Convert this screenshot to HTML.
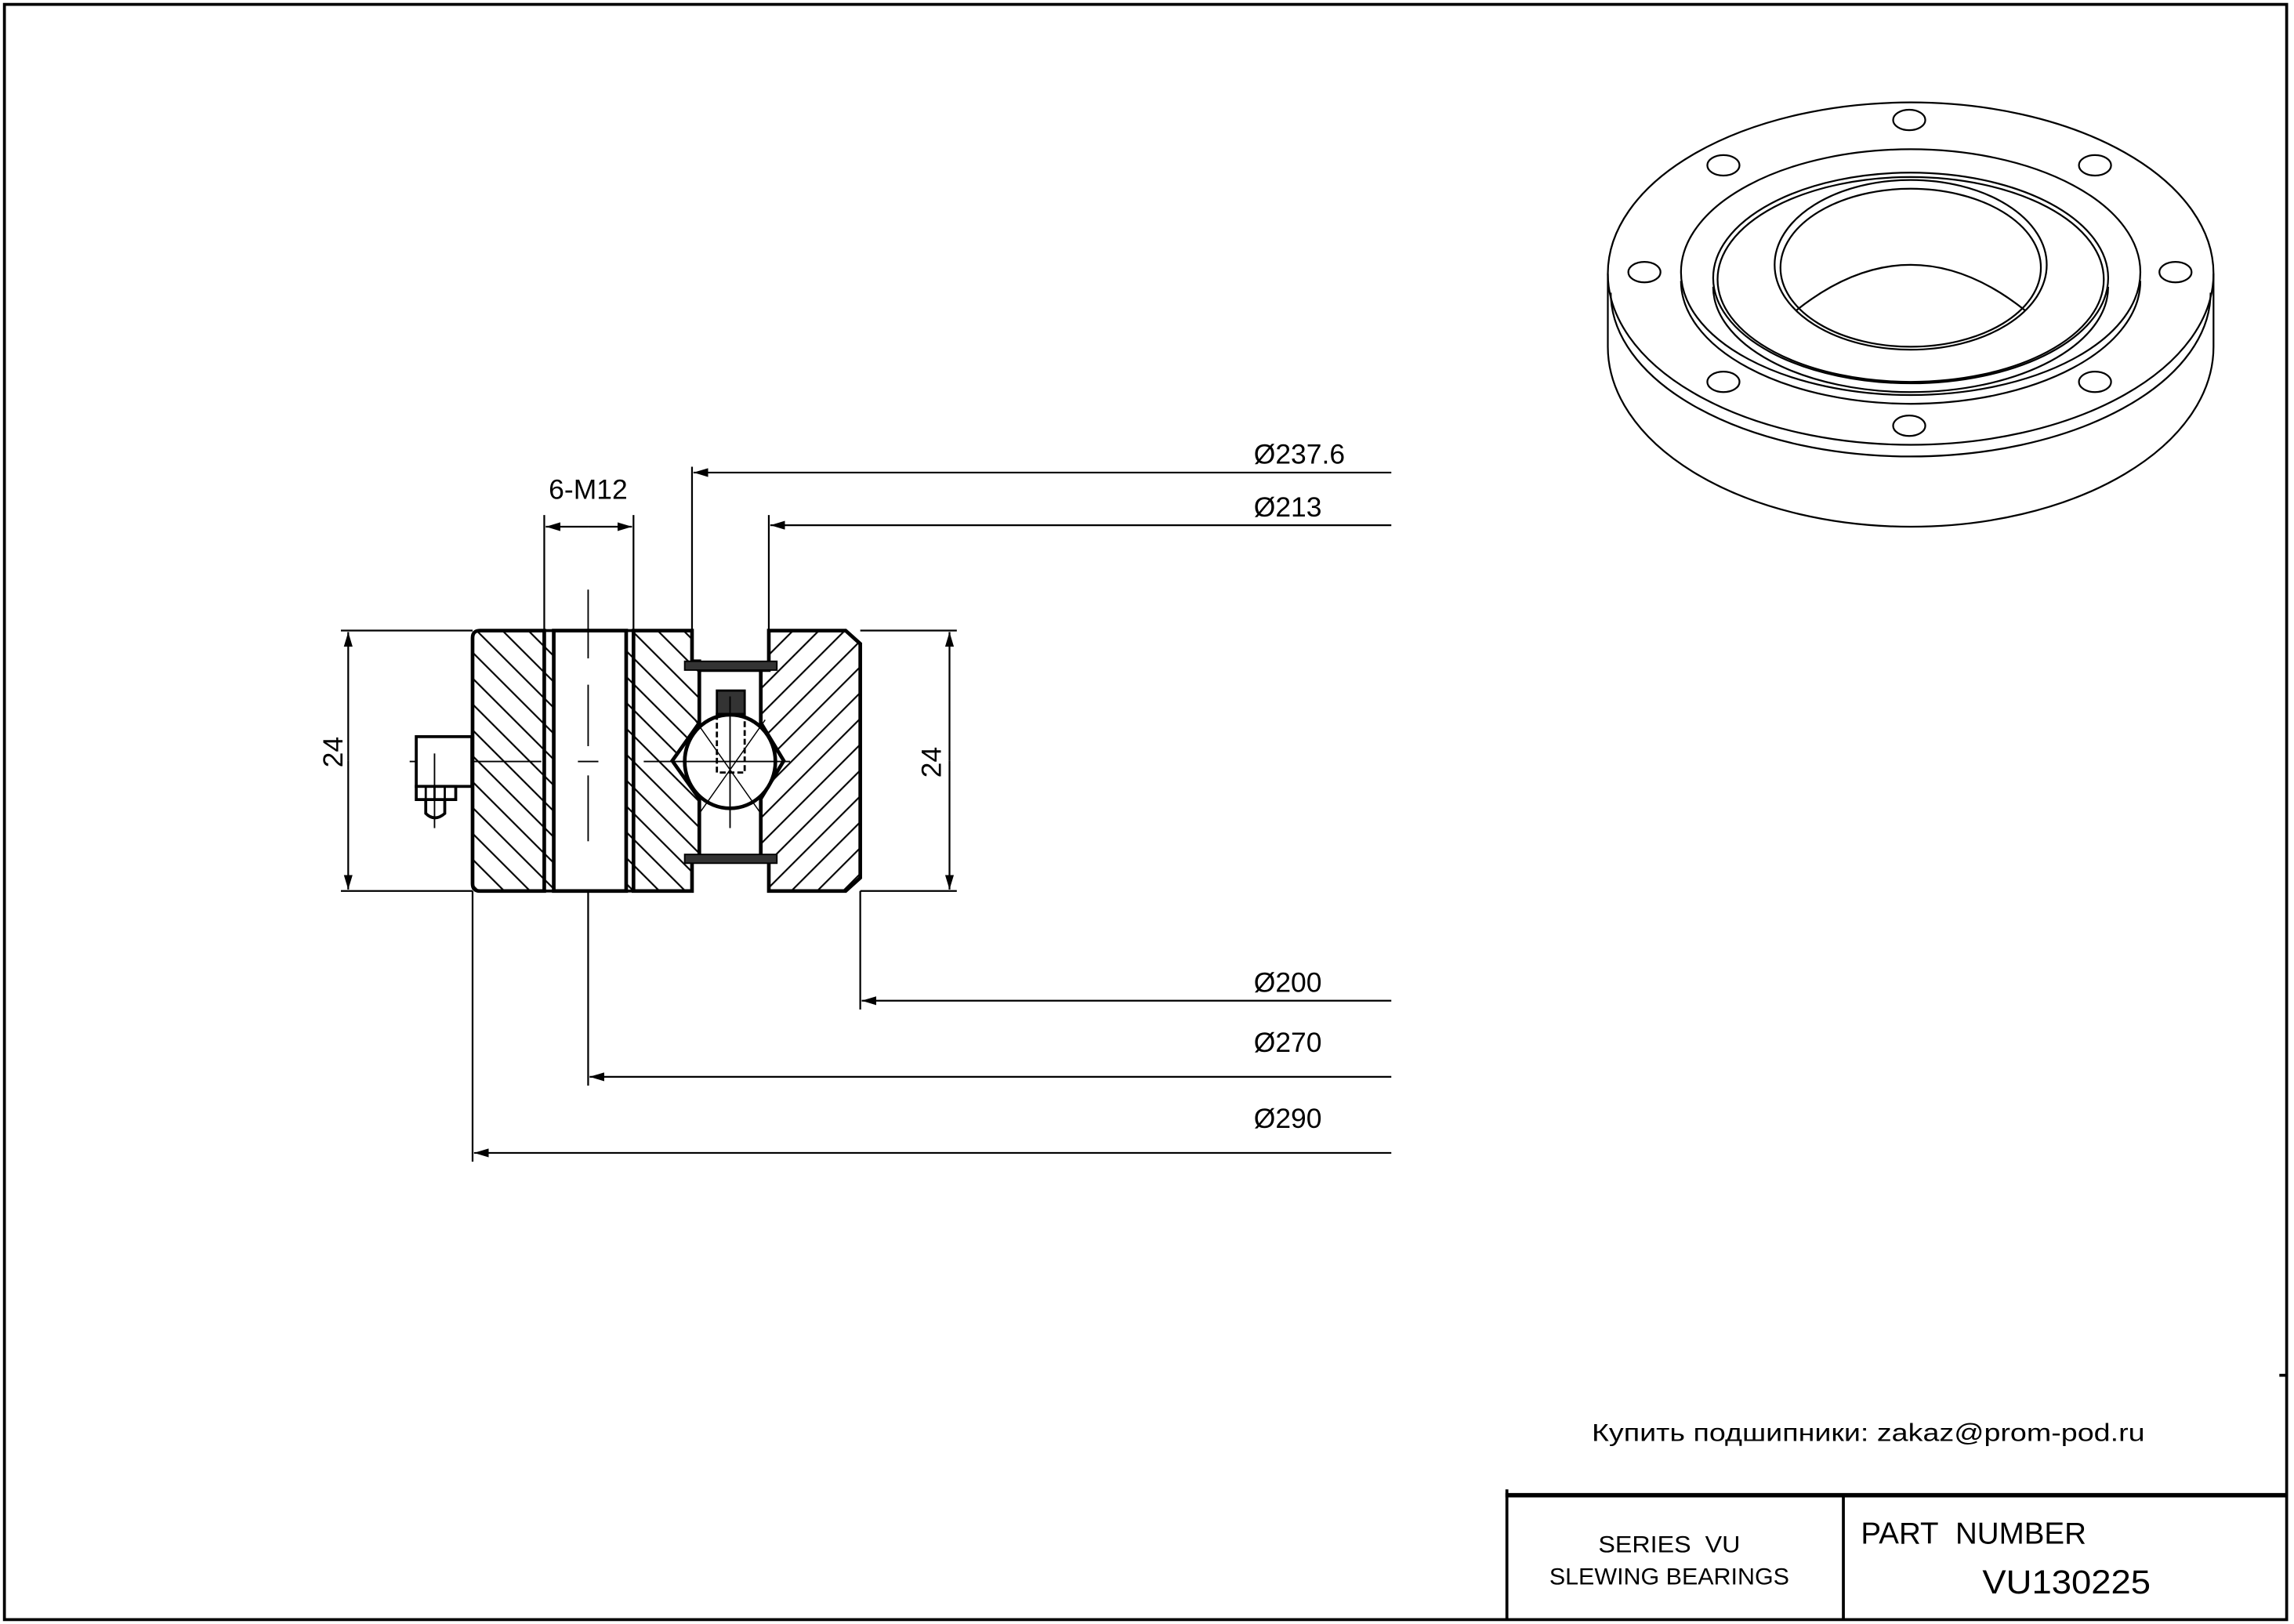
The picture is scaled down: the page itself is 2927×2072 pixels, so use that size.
<!DOCTYPE html>
<html><head><meta charset="utf-8"><style>
html,body{margin:0;padding:0;background:#fff;}
svg{display:block;}
text{font-family:"Liberation Sans",sans-serif;fill:#000;white-space:pre;}
</style></head><body>
<svg width="2927" height="2072" viewBox="0 0 1568 1110" xmlns="http://www.w3.org/2000/svg">
<defs>
<pattern id="hL" patternUnits="userSpaceOnUse" width="12.5" height="12.5" patternTransform="rotate(-45)">
<line x1="0" y1="0" x2="0" y2="12.5" stroke="#000" stroke-width="2.3"/></pattern>
<pattern id="hR" patternUnits="userSpaceOnUse" width="12.5" height="12.5" patternTransform="rotate(45)">
<line x1="0" y1="0" x2="0" y2="12.5" stroke="#000" stroke-width="2.3"/></pattern>
<marker id="ar" viewBox="0 0 10 6" refX="10" refY="3" markerWidth="10" markerHeight="6" orient="auto" markerUnits="userSpaceOnUse">
<path d="M0,0 L10,3 L0,6 z" fill="#000"/></marker>
</defs>
<rect x="3" y="3" width="1560" height="1104" fill="none" stroke="#000" stroke-width="2"/>

<g stroke="#000" fill="none">
<path d="M328,431 H372 V609 H328 Q323,609 323,604 V436 Q323,431 328,431 z" fill="url(#hL)" stroke-width="2.5"/>
<rect x="372" y="431" width="6.5" height="178" fill="url(#hL)" stroke-width="2"/>
<rect x="378.5" y="431" width="49.5" height="178" fill="#fff" stroke-width="2.5"/>
<rect x="428" y="431" width="5" height="178" fill="url(#hL)" stroke-width="2"/>
<path d="M433,431 H473 V452 H478 V494 L459.5,520 L478,546 V585 H473 V609 H433 z" fill="url(#hL)" stroke-width="2.5"/>
<path d="M525.5,431 H578 L588,440 V600 L578,609 H525.5 V589 H520 V546 L535.7,520 L520,494 V458 H525.5 z" fill="url(#hR)" stroke-width="2.5"/>
<rect x="478" y="458" width="42" height="127" fill="#fff" stroke-width="2.5"/>
<rect x="468" y="452" width="63" height="6" fill="#333" stroke-width="1"/>
<rect x="468" y="584" width="63" height="6" fill="#333" stroke-width="1"/>
<ellipse cx="499" cy="520.5" rx="31" ry="32" fill="#fff" stroke-width="2.5"/>
<rect x="490" y="472" width="19" height="16" fill="#333" stroke-width="1.5"/>
<rect x="490" y="488" width="19" height="40" stroke-width="1.5" stroke-dasharray="4,2"/>
<line x1="478" y1="556" x2="523" y2="492" stroke-width="0.8"/>
<line x1="475" y1="492" x2="520" y2="556" stroke-width="0.8"/>
<line x1="499" y1="476" x2="499" y2="566" stroke-width="1"/>
<line x1="280" y1="520.5" x2="370" y2="520.5" stroke-width="1"/>
<line x1="395" y1="520.5" x2="409" y2="520.5" stroke-width="1"/>
<line x1="440" y1="520.5" x2="540" y2="520.5" stroke-width="1"/>
<line x1="402" y1="403" x2="402" y2="450" stroke-width="1"/>
<line x1="402" y1="468" x2="402" y2="510" stroke-width="1"/>
<line x1="402" y1="530" x2="402" y2="575" stroke-width="1"/>
<rect x="284.5" y="503.5" width="38" height="34" fill="#fff" stroke-width="2"/>
<rect x="284.5" y="537.5" width="27" height="9" fill="#fff" stroke-width="2"/>
<line x1="291" y1="537.5" x2="291" y2="546.5" stroke-width="1.5"/><line x1="297" y1="537.5" x2="297" y2="546.5" stroke-width="1.5"/><line x1="304" y1="537.5" x2="304" y2="546.5" stroke-width="1.5"/>
<path d="M291,546.5 V556 Q297,562 304,556 V546.5" stroke-width="2"/>
<line x1="297" y1="515" x2="297" y2="566" stroke-width="1"/>

<g stroke-width="1.2">
<line x1="233" y1="431" x2="323" y2="431"/><line x1="233" y1="609" x2="323" y2="609"/>
<line x1="238" y1="520" x2="238" y2="432" marker-end="url(#ar)"/>
<line x1="238" y1="520" x2="238" y2="608" marker-end="url(#ar)"/>
<line x1="588" y1="431" x2="654" y2="431"/><line x1="588" y1="609" x2="654" y2="609"/>
<line x1="649" y1="520" x2="649" y2="432" marker-end="url(#ar)"/>
<line x1="649" y1="520" x2="649" y2="608" marker-end="url(#ar)"/>
<line x1="372" y1="352" x2="372" y2="431"/><line x1="433" y1="352" x2="433" y2="431"/>
<line x1="402" y1="360" x2="373" y2="360" marker-end="url(#ar)"/>
<line x1="402" y1="360" x2="432" y2="360" marker-end="url(#ar)"/>
<line x1="473" y1="319" x2="473" y2="452"/>
<line x1="951" y1="323" x2="474" y2="323" marker-end="url(#ar)"/>
<line x1="525.5" y1="352" x2="525.5" y2="431"/>
<line x1="951" y1="359" x2="526.5" y2="359" marker-end="url(#ar)"/>
<line x1="588" y1="609" x2="588" y2="690"/>
<line x1="951" y1="684" x2="589" y2="684" marker-end="url(#ar)"/>
<line x1="402" y1="609" x2="402" y2="742"/>
<line x1="951" y1="736" x2="403" y2="736" marker-end="url(#ar)"/>
<line x1="323" y1="609" x2="323" y2="794"/>
<line x1="951" y1="788" x2="324" y2="788" marker-end="url(#ar)"/>
</g>
</g>
<g font-size="19">
<text x="234" y="514" text-anchor="middle" transform="rotate(-90 234 514)">24</text>
<text x="643" y="521" text-anchor="middle" transform="rotate(-90 643 521)">24</text>
<text x="402" y="341" text-anchor="middle">6-M12</text>
<text x="857" y="317">Ø237.6</text>
<text x="857" y="353">Ø213</text>
<text x="857" y="678">Ø200</text>
<text x="857" y="719">Ø270</text>
<text x="857" y="771">Ø290</text>
</g>

<g stroke="#000" fill="none" stroke-width="1.2">
<path d="M1099,187 V237 A207,123 0 0 0 1513,237 V187"/>
<ellipse cx="1306" cy="187" rx="207" ry="117"/>
<path d="M1101,200 A205,112 0 0 0 1511,200"/>
<ellipse cx="1306" cy="186" rx="157" ry="84"/>
<path d="M1149,192 A157,84 0 0 0 1463,192"/>
<ellipse cx="1306" cy="190" rx="135" ry="72"/>
<ellipse cx="1306" cy="191" rx="132" ry="70"/>
<path d="M1171,196 A135,72 0 0 0 1441,196"/>
<ellipse cx="1306" cy="181" rx="93" ry="58"/>
<ellipse cx="1306" cy="183" rx="89" ry="54"/>
<path d="M1228,212 Q1306,150 1384,212"/>
<ellipse cx="1305" cy="82" rx="11" ry="7"/>
<ellipse cx="1178" cy="113" rx="11" ry="7"/>
<ellipse cx="1432" cy="113" rx="11" ry="7"/>
<ellipse cx="1124" cy="186" rx="11" ry="7"/>
<ellipse cx="1487" cy="186" rx="11" ry="7"/>
<ellipse cx="1178" cy="261" rx="11" ry="7"/>
<ellipse cx="1432" cy="261" rx="11" ry="7"/>
<ellipse cx="1305" cy="291" rx="11" ry="7"/>
</g>

<g stroke="#000">
<line x1="1029" y1="1022" x2="1563" y2="1022" stroke-width="3"/>
<line x1="1030" y1="1018" x2="1030" y2="1107" stroke-width="2"/>
<line x1="1260" y1="1022" x2="1260" y2="1107" stroke-width="2"/>
<line x1="1558" y1="940" x2="1563" y2="940" stroke-width="2"/>
</g>
<text x="1088" y="985" font-size="17" font-family="'Liberation Sans','DejaVu Sans',sans-serif" textLength="378" lengthAdjust="spacingAndGlyphs">Купить подшипники: zakaz@prom-pod.ru</text>
<text x="1141" y="1061" font-size="16" text-anchor="middle" textLength="97" lengthAdjust="spacingAndGlyphs">SERIES&#160; VU</text>
<text x="1141" y="1083" font-size="16" text-anchor="middle" textLength="164" lengthAdjust="spacingAndGlyphs">SLEWING BEARINGS</text>
<text x="1272" y="1055" font-size="21" textLength="154" lengthAdjust="spacingAndGlyphs">PART&#160; NUMBER</text>
<text x="1355" y="1089" font-size="23" textLength="115" lengthAdjust="spacingAndGlyphs">VU130225</text>
</svg>
</body></html>
